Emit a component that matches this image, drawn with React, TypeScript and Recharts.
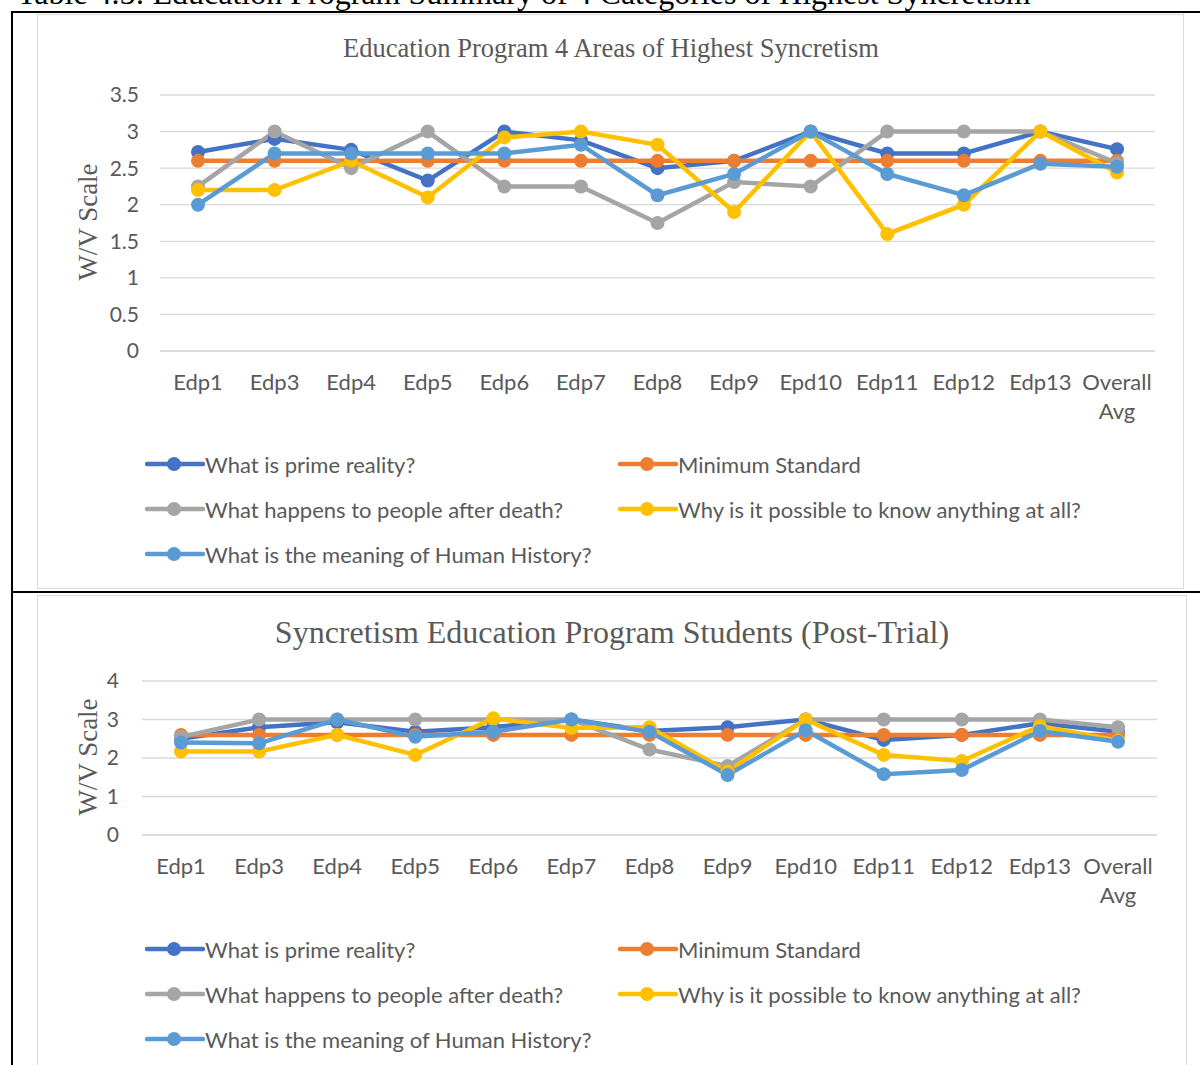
import React from "react";
import { LineChart, Line, XAxis, YAxis, CartesianGrid } from "recharts";

// ---------------------------------------------------------------------------
// Data
// ---------------------------------------------------------------------------

const categories = [
  "Edp1", "Edp3", "Edp4", "Edp5", "Edp6", "Edp7", "Edp8",
  "Edp9", "Epd10", "Edp11", "Edp12", "Edp13", "Overall Avg",
];

// top chart: Education Program 4 Areas of Highest Syncretism
const summaryPrime = [2.72, 2.9, 2.75, 2.33, 3.0, 2.88, 2.5, 2.6, 3.0, 2.7, 2.7, 3.0, 2.76];
const summaryMinimum = [2.6, 2.6, 2.6, 2.6, 2.6, 2.6, 2.6, 2.6, 2.6, 2.6, 2.6, 2.6, 2.6];
const summaryDeath = [2.25, 3.0, 2.5, 3.0, 2.25, 2.25, 1.75, 2.31, 2.25, 3.0, 3.0, 3.0, 2.57];
const summaryKnow = [2.2, 2.2, 2.6, 2.1, 2.92, 3.0, 2.82, 1.9, 3.0, 1.6, 2.0, 3.0, 2.44];
const summaryHistory = [2.0, 2.7, 2.7, 2.7, 2.7, 2.82, 2.13, 2.42, 3.0, 2.42, 2.13, 2.56, 2.52];
const summaryTicks = [0, 0.5, 1, 1.5, 2, 2.5, 3, 3.5];

// bottom chart: Syncretism Education Program Students (Post-Trial)
const postPrime = [2.5, 2.8, 2.93, 2.68, 2.8, 3.0, 2.7, 2.8, 3.0, 2.47, 2.6, 2.9, 2.68];
const postMinimum = [2.6, 2.6, 2.6, 2.6, 2.6, 2.6, 2.6, 2.6, 2.6, 2.6, 2.6, 2.6, 2.6];
const postDeath = [2.55, 3.0, 3.0, 3.0, 3.0, 3.0, 2.22, 1.79, 3.0, 3.0, 3.0, 3.0, 2.8];
const postKnow = [2.17, 2.17, 2.6, 2.08, 3.03, 2.78, 2.8, 1.65, 3.0, 2.08, 1.92, 2.83, 2.45];
const postHistory = [2.4, 2.38, 3.0, 2.55, 2.68, 3.0, 2.68, 1.56, 2.72, 1.58, 1.69, 2.7, 2.42];
const postTicks = [0, 1, 2, 3, 4];

const seriesNames = [
  "What is prime reality?",
  "Minimum Standard",
  "What happens to people after death?",
  "Why is it possible to know anything at all?",
  "What is the meaning of Human History?",
];

const COLORS = ["#4472C4", "#ED7D31", "#A5A5A5", "#FFC000", "#5B9BD5"];
const KEYS = ["prime", "minimum", "death", "know", "history"];

const SANS = "Lato, 'Open Sans', sans-serif";
const SERIF = "'Liberation Serif', 'Times New Roman', serif";
const TEXT = "#595959";

function buildRows(series: number[][]) {
  return categories.map((name, i) => {
    const row: Record<string, string | number> = { name };
    KEYS.forEach((k, s) => {
      row[k] = series[s][i];
    });
    return row;
  });
}

const summaryRows = buildRows([summaryPrime, summaryMinimum, summaryDeath, summaryKnow, summaryHistory]);
const postRows = buildRows([postPrime, postMinimum, postDeath, postKnow, postHistory]);

// ---------------------------------------------------------------------------
// Pieces
// ---------------------------------------------------------------------------

const CategoryTick = (props: any) => {
  const { x, y, payload } = props;
  const lines = String(payload.value).split(" ");
  return (
    <text x={x} y={y} textAnchor="middle" fill={TEXT} fontSize={22} fontFamily={SANS}>
      {lines.map((line, i) => (
        <tspan key={i} x={x} dy={i === 0 ? 31 : 29}>
          {line}
        </tspan>
      ))}
    </text>
  );
};

function LegendBlock({ top }: { top: number }) {
  const cols = [145, 618];
  return (
    <>
      {seriesNames.map((label, i) => {
        const col = i % 2;
        const row = Math.floor(i / 2);
        return (
          <div
            key={label}
            style={{
              position: "absolute",
              left: cols[col],
              top: top + row * 45 - 14,
              height: 28,
              display: "flex",
              alignItems: "center",
              whiteSpace: "nowrap",
              fontFamily: SANS,
              fontSize: 22,
              color: TEXT,
            }}
          >
            <svg width={60} height={28}>
              <line x1={2} y1={14} x2={58} y2={14} stroke={COLORS[i]} strokeWidth={4.5} strokeLinecap="round" />
              <circle cx={29} cy={14} r={7} fill={COLORS[i]} />
            </svg>
            <span>{label}</span>
          </div>
        );
      })}
    </>
  );
}

function SeriesChart({
  rows,
  ticks,
  max,
  width,
  height,
  margin,
  yWidth,
  tickGap,
  pad,
}: {
  rows: Record<string, string | number>[];
  ticks: number[];
  max: number;
  width: number;
  height: number;
  margin: { top: number; right: number; bottom: number; left: number };
  yWidth: number;
  tickGap: number;
  pad: number;
}) {
  return (
    <LineChart width={width} height={height} data={rows} margin={margin}>
      <CartesianGrid vertical={false} stroke="#D9D9D9" strokeWidth={1.3} />
      <XAxis
        dataKey="name"
        interval={0}
        tickLine={false}
        axisLine={{ stroke: "#D9D9D9", strokeWidth: 1.3 }}
        height={60}
        padding={{ left: pad, right: pad }}
        tick={<CategoryTick />}
      />
      <YAxis
        domain={[0, max]}
        ticks={ticks}
        width={yWidth}
        tickLine={false}
        axisLine={false}
        tickMargin={tickGap}
        tick={{ fill: TEXT, fontSize: 21, fontFamily: SANS }}
      />
      {KEYS.map((k, i) => (
        <Line
          key={k}
          dataKey={k}
          name={seriesNames[i]}
          stroke={COLORS[i]}
          strokeWidth={4.5}
          dot={{ r: 7, fill: COLORS[i], stroke: COLORS[i], strokeWidth: 0 }}
          isAnimationActive={false}
        />
      ))}
    </LineChart>
  );
}

// ---------------------------------------------------------------------------
// App
// ---------------------------------------------------------------------------

export default function App() {
  const abs = (style: React.CSSProperties): React.CSSProperties => ({ position: "absolute", ...style });

  return (
    <div style={{ position: "absolute", left: 0, top: 0, width: 1200, height: 1065, overflow: "hidden", background: "#fff" }}>
      {/* table caption, cut by the page top */}
      <div style={abs({ left: 17, top: -23, fontFamily: SERIF, fontSize: 32, lineHeight: "32px", whiteSpace: "nowrap", color: "#000" })}>
        Table 4.5: Education Program Summary of 4 Categories of Highest Syncretism
      </div>

      {/* table borders */}
      <div style={abs({ left: 11, top: 11, width: 1189, height: 2, background: "#000" })} />
      <div style={abs({ left: 11, top: 11, width: 2, height: 1054, background: "#000" })} />
      <div style={abs({ left: 11, top: 591, width: 1189, height: 2, background: "#000" })} />

      {/* chart frames */}
      <div style={abs({ left: 37, top: 14, width: 1147, height: 575, border: "1.5px solid #D9D9D9", boxSizing: "border-box" })} />
      <div style={abs({ left: 37, top: 595, width: 1150, height: 480, border: "1.5px solid #D9D9D9", boxSizing: "border-box" })} />

      {/* top chart */}
      <div style={abs({ left: 0, top: 48, width: 1200, textAlign: "center", transform: "translateY(-50%)", fontFamily: SERIF, fontSize: 26.5, color: TEXT, paddingLeft: 22, boxSizing: "border-box" })}>
        Education Program 4 Areas of Highest Syncretism
      </div>
      <div style={abs({ left: 88, top: 222, transform: "translate(-50%, -50%) rotate(-90deg)", fontFamily: SERIF, fontSize: 27, color: TEXT, whiteSpace: "nowrap" })}>
        W/V Scale
      </div>
      <div style={abs({ left: 0, top: 0 })}>
        <SeriesChart
          rows={summaryRows}
          ticks={summaryTicks}
          max={3.5}
          width={1200}
          height={440}
          margin={{ top: 95, right: 45, bottom: 29, left: 100 }}
          yWidth={60}
          tickGap={15}
          pad={38}
        />
      </div>
      <LegendBlock top={464} />

      {/* bottom chart */}
      <div style={abs({ left: 0, top: 632, width: 1200, textAlign: "center", transform: "translateY(-50%)", fontFamily: SERIF, fontSize: 32, color: TEXT, paddingLeft: 24, boxSizing: "border-box" })}>
        Syncretism Education Program Students (Post-Trial)
      </div>
      <div style={abs({ left: 88, top: 757, transform: "translate(-50%, -50%) rotate(-90deg)", fontFamily: SERIF, fontSize: 27, color: TEXT, whiteSpace: "nowrap" })}>
        W/V Scale
      </div>
      <div style={abs({ left: 0, top: 590 })}>
        <SeriesChart
          rows={postRows}
          ticks={postTicks}
          max={4}
          width={1200}
          height={350}
          margin={{ top: 91, right: 43, bottom: 45, left: 82 }}
          yWidth={60}
          tickGap={17}
          pad={39}
        />
      </div>
      <LegendBlock top={949} />
    </div>
  );
}
